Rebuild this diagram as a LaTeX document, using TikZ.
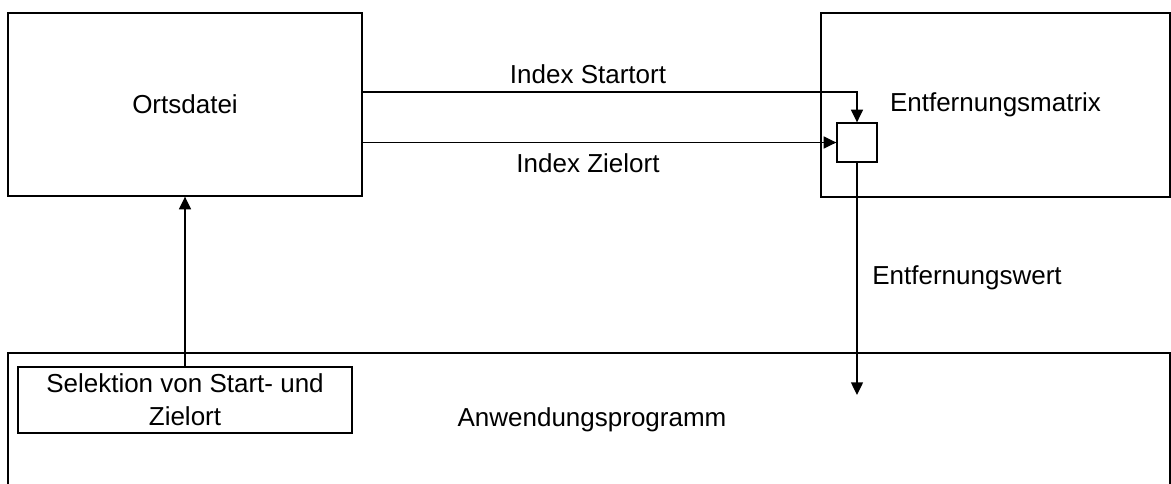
\documentclass[tikz,border=0pt]{standalone}
\usepackage{fontspec}
\setmainfont{Liberation Sans}
\usetikzlibrary{positioning,arrows.meta}
\tikzset{
    box/.style={draw, line width=1pt, inner sep=0pt, align=center},
    lbl/.style={inner sep=0pt, anchor=base},
    flow/.style={line width=1pt, -{Triangle[width=9pt,length=9.5pt]}}
}

\begin{document}
\begin{tikzpicture}[x=0.75pt, y=-0.75pt, font=\fontsize{19.5}{24.75}\selectfont]
\clip (0,0) rectangle (1171,483);

% upper boxes
\node[box, minimum width=265.5pt, minimum height=137.25pt] (ortsdatei) at (185,104.5) {Ortsdatei};
\node[box, minimum width=261.75pt, minimum height=138pt] (matrix) at (995.5,105) {Entfernungsmatrix};
\node[box, minimum width=30pt, minimum height=29.25pt] (cell) at (857,142.5) {};

% lower boxes
\node[box, minimum width=871.5pt, minimum height=125.25pt] (programm) at (589,436.5) {};
\node[box, minimum width=250.5pt, minimum height=49.5pt] (sel) at (185,400) {Selektion von Start- und\\Zielort};
\node[lbl] (anw) at (592,426) {Anwendungsprogramm};

% connectors
\draw[flow] ([yshift=9.375pt]ortsdatei.east) -| (cell.north);
\draw[flow] (ortsdatei.east |- cell.west) -- (cell.west);
\coordinate (wert) at (857,395);
\draw[flow] (cell.south) -- (wert);
\draw[flow] (sel.north) -- (ortsdatei.south);

\node[lbl] (startort) at (588,83) {Index Startort};
\node[lbl] (zielort) at (588,172) {Index Zielort};
\node[lbl] (wertlbl) at (967,284) {Entfernungswert};
\end{tikzpicture}
\end{document}
